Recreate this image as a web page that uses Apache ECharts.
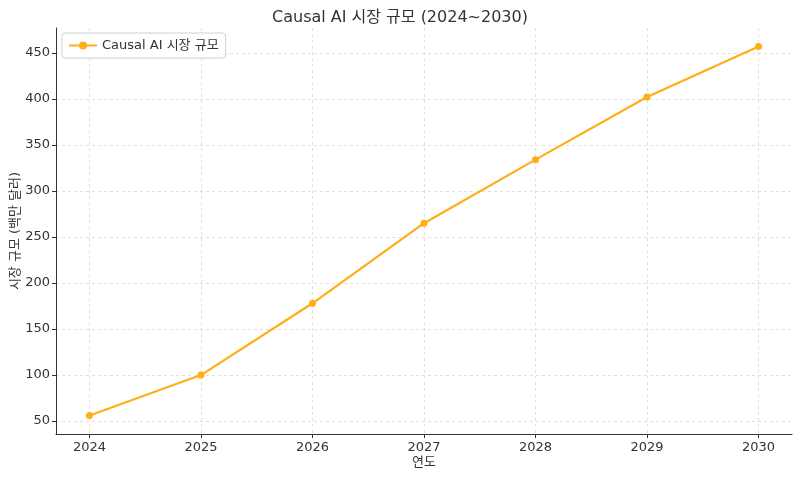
<!DOCTYPE html>
<html>
<head>
<meta charset="utf-8">
<script src="https://cdn.jsdelivr.net/npm/echarts@6/dist/echarts.min.js"></script>
<style>html,body{margin:0;padding:0;background:#fff}#c{width:800px;height:477px}</style>
</head>
<body>
<div id="c"></div>
<script>
const years = [2024, 2025, 2026, 2027, 2028, 2029, 2030];
const marketSize = [56, 100, 178, 265, 334, 402, 457];
const yTicks = [50, 100, 150, 200, 250, 300, 350, 400, 450];
const titleText = 'Causal AI 시장 규모 (2024~2030)';
const seriesName = 'Causal AI 시장 규모';
const xName = '연도';
const yName = '시장 규모 (백만 달러)';

const FONT = '"DejaVu Sans", "Noto Sans CJK KR", sans-serif';
const chart = echarts.init(document.getElementById('c'), null, {renderer: 'canvas'});
const gridLine = {show: true, lineStyle: {color: '#d9d9d9', type: [3, 3], width: 0.8}};
chart.setOption({
  animation: false,
  backgroundColor: '#fff',
  textStyle: {fontFamily: FONT},
  title: {
    text: titleText, left: 'center', top: 5,
    textStyle: {fontFamily: FONT, fontSize: 16, fontWeight: 'normal', color: '#333'}
  },
  legend: {
    left: 62, top: 33, itemWidth: 28, itemHeight: 10, itemGap: 6,
    padding: [6, 7, 6, 6],
    backgroundColor: '#fff', borderColor: '#d0d0d0', borderWidth: 1, borderRadius: 3,
    textStyle: {fontFamily: FONT, fontSize: 13, color: '#333'}
  },
  grid: {left: 56, right: 8, top: 28, bottom: 43, containLabel: false, outerBoundsMode: 'none'},
  xAxis: {
    type: 'value', min: 2023.7, max: 2030.3,
    name: xName, nameLocation: 'middle', nameGap: 22, nameMoveOverlap: false,
    nameTextStyle: {fontFamily: FONT, fontSize: 13, color: '#333'},
    axisLine: {show: true, onZero: false, lineStyle: {color: '#333', width: 1}},
    axisTick: {show: true, customValues: years, length: 4, lineStyle: {color: '#333'}},
    axisLabel: {customValues: years, formatter: v => String(v), fontFamily: FONT, fontSize: 13, color: '#333', margin: 7},
    splitLine: gridLine
  },
  yAxis: {
    type: 'value', min: 36, max: 477,
    name: yName, nameLocation: 'middle', nameGap: 34, nameRotate: 90, nameMoveOverlap: false,
    nameTextStyle: {fontFamily: FONT, fontSize: 13, color: '#333'},
    axisLine: {show: true, lineStyle: {color: '#333', width: 1}},
    axisTick: {show: true, customValues: yTicks, length: 4, lineStyle: {color: '#333'}},
    axisLabel: {customValues: yTicks, fontFamily: FONT, fontSize: 13, color: '#333', margin: 6},
    splitLine: gridLine
  },
  series: [{
    name: seriesName, type: 'line',
    data: years.map((y, i) => [y, marketSize[i]]),
    symbol: 'circle', symbolSize: 7,
    lineStyle: {color: '#ffae17', width: 2.2},
    itemStyle: {color: '#ffae17'}
  }]
});
</script>
</body>
</html>
